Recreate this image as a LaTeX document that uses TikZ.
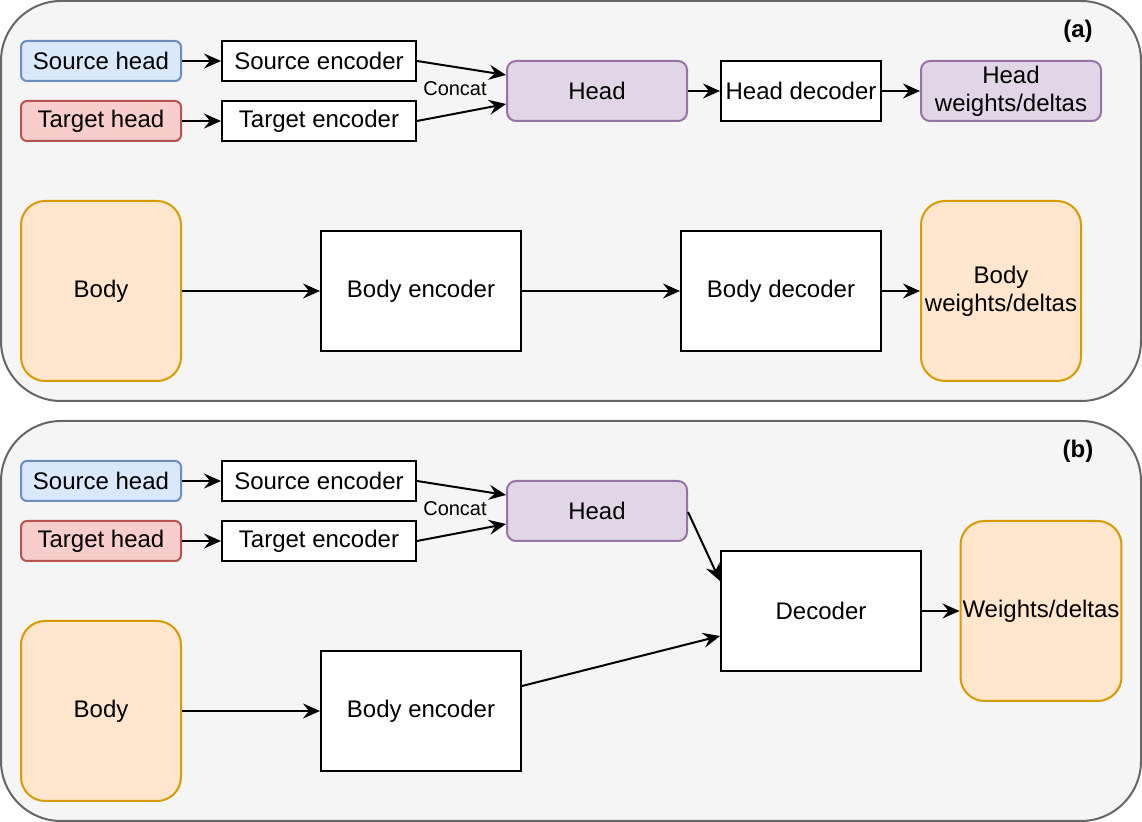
\documentclass[tikz,border=0pt]{standalone}
\usepackage{fontspec}
\setmainfont{Liberation Sans}
\usetikzlibrary{arrows.meta}
\definecolor{panelfill}{HTML}{F5F5F5}
\definecolor{paneldraw}{HTML}{666666}
\definecolor{bluefill}{HTML}{DAE8FC}
\definecolor{bluedraw}{HTML}{6C8EBF}
\definecolor{redfill}{HTML}{F8CECC}
\definecolor{reddraw}{HTML}{B85450}
\definecolor{purplefill}{HTML}{E1D5E7}
\definecolor{purpledraw}{HTML}{9673A6}
\definecolor{orangefill}{HTML}{FFE6CC}
\definecolor{orangedraw}{HTML}{D79B00}
\begin{document}
\begin{tikzpicture}[x=0.5pt,y=-0.5pt,
  every node/.style={font=\fontsize{12}{14}\selectfont, inner sep=1pt, align=center},
  panel/.style={draw=paneldraw, fill=panelfill, line width=1pt, rounded corners=30pt},
  block/.style={draw, fill=white, line width=1pt},
  srcbox/.style={draw=bluedraw, fill=bluefill, line width=1pt, rounded corners=3pt,
    minimum width=80pt, minimum height=20pt},
  tgtbox/.style={draw=reddraw, fill=redfill, line width=1pt, rounded corners=3pt,
    minimum width=80pt, minimum height=20pt},
  headbox/.style={draw=purpledraw, fill=purplefill, line width=1pt, rounded corners=4.5pt,
    minimum width=90pt, minimum height=30pt},
  bodybox/.style={draw=orangedraw, fill=orangefill, line width=1pt, rounded corners=12pt,
    minimum width=80pt, minimum height=90pt},
  enc/.style={block, minimum width=97pt, minimum height=20pt},
  big/.style={block, minimum width=100pt, minimum height=60pt},
  arr/.style={-{Stealth[length=8.5pt, width=7.5pt, inset=3pt]}, line width=1pt}]
  \useasboundingbox (0,0) rectangle (1142,822);

  % panel (a)
  \draw[panel] (1,1) rectangle (1141,401);
  \node[font=\bfseries\fontsize{12}{14}\selectfont] (laba) at (1078,31) {(a)};
  \node[srcbox] (srca) at (101,61) {Source head};
  \node[tgtbox] (tgta) at (101,121) {Target head};
  \node[enc] (senca) at (319,61) {Source encoder};
  \node[enc] (tenca) at (319,121) {Target encoder};
  \node[headbox] (heada) at (597,91) {Head};
  \node[block, minimum width=80pt, minimum height=30pt] (hdeca) at (801,91) {Head decoder};
  \node[headbox] (hwa) at (1011,91) {Head\\weights/deltas};
  \node[bodybox] (bodya) at (101,291) {Body};
  \node[big] (benca) at (421,291) {Body encoder};
  \node[big] (bdeca) at (781,291) {Body decoder};
  \node[bodybox] (bwa) at (1001,291) {Body\\weights/deltas};
  \node[font=\fontsize{10}{12}\selectfont] (cata) at (455,89) {Concat};

  \draw[arr] (srca) -- (senca);
  \draw[arr] (tgta) -- (tenca);
  \draw[arr] (senca.east) -- ([yshift=8pt]heada.west);
  \draw[arr] (tenca.east) -- ([yshift=-6.5pt]heada.west);
  \draw[arr] (heada) -- (hdeca);
  \draw[arr] (hdeca) -- (hwa);
  \draw[arr] (bodya) -- (benca);
  \draw[arr] (benca) -- (bdeca);
  \draw[arr] (bdeca) -- (bwa);

  % panel (b)
  \draw[panel] (1,421) rectangle (1141,821);
  \node[font=\bfseries\fontsize{12}{14}\selectfont] (labb) at (1078,451) {(b)};
  \node[srcbox] (srcb) at (101,481) {Source head};
  \node[tgtbox] (tgtb) at (101,541) {Target head};
  \node[enc] (sencb) at (319,481) {Source encoder};
  \node[enc] (tencb) at (319,541) {Target encoder};
  \node[headbox] (headb) at (597,511) {Head};
  \node[big] (decb) at (821,611) {Decoder};
  \node[bodybox] (wb) at (1041,611) {Weights/deltas};
  \node[bodybox] (bodyb) at (101,711) {Body};
  \node[big] (bencb) at (421,711) {Body encoder};
  \node[font=\fontsize{10}{12}\selectfont] (catb) at (455,509) {Concat};

  \draw[arr] (srcb) -- (sencb);
  \draw[arr] (tgtb) -- (tencb);
  \draw[arr] (sencb.east) -- ([yshift=8pt]headb.west);
  \draw[arr] (tencb.east) -- ([yshift=-6.5pt]headb.west);
  \draw[arr] ([yshift=-0.5pt]headb.east) -- ([yshift=15pt]decb.west);
  \draw[arr] ([yshift=12.5pt]bencb.east) -- ([yshift=-12.5pt]decb.west);
  \draw[arr] (decb) -- (wb);
  \draw[arr] (bodyb) -- (bencb);
\end{tikzpicture}
\end{document}
